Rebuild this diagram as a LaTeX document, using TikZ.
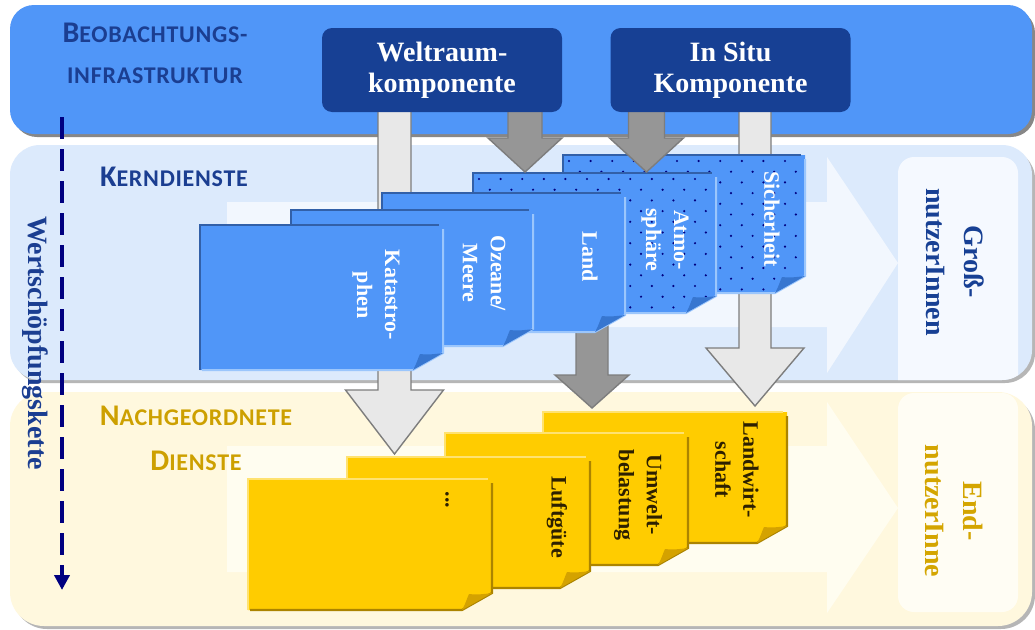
\documentclass[tikz,border=0pt]{standalone}
\usepackage{fontspec}
\setmainfont{Liberation Serif}
\newfontfamily\headfont[LetterSpace=3]{Carlito}
\usetikzlibrary{arrows.meta}

\definecolor{topblue}{RGB}{80,150,248}
\definecolor{midband}{RGB}{220,234,252}
\definecolor{midarrow}{RGB}{242,247,254}
\definecolor{midbox}{RGB}{245,249,255}
\definecolor{lowband}{RGB}{255,248,222}
\definecolor{lowarrow}{RGB}{255,253,240}
\definecolor{lowbox}{RGB}{255,253,244}
\definecolor{bandshadow}{RGB}{150,150,150}
\definecolor{boxblue}{RGB}{23,64,148}
\definecolor{headblue}{RGB}{27,62,145}
\definecolor{headgold}{RGB}{205,160,0}
\definecolor{endgold}{RGB}{212,165,0}
\definecolor{chainnavy}{RGB}{0,0,128}
\definecolor{arrlight}{RGB}{232,232,232}
\definecolor{arrdark}{RGB}{150,150,150}
\definecolor{arredge}{RGB}{125,125,125}
\definecolor{pgblue}{RGB}{80,150,248}
\definecolor{pgbluetop}{RGB}{50,96,168}
\definecolor{pgblueedge}{RGB}{155,198,252}
\definecolor{pgbluefold}{RGB}{55,118,208}
\definecolor{pgyellow}{RGB}{255,204,0}
\definecolor{pgyellowtop}{RGB}{255,226,112}
\definecolor{pgyellowedge}{RGB}{172,132,0}
\definecolor{pgyellowfold}{RGB}{212,162,0}
\definecolor{ytext}{RGB}{45,32,0}

% one sheet with a curled lower right corner: x1, y1, x2, y2
\newcommand\docsheet[4]{%
  \fill[sheetfill] (#1,#2) -- (#3,#2) -- (#3,#4-17) -- (#3-30,#4) -- (#1,#4) -- cycle;
}
\newcommand\docsheetlines[4]{%
  \draw[sheetedge] (#3,#2+4) -- (#3,#4-17) -- (#3-30,#4) -- (#1+2,#4);
  \draw[sheettop] (#1,#4) -- (#1,#2) -- (#3-4,#2);
  \fill[sheetfold] (#3-30,#4) .. controls (#3-26,#4-7) and (#3-25,#4-12) .. (#3-23,#4-16)
     .. controls (#3-15,#4-15) and (#3-7,#4-16) .. (#3,#4-17) -- cycle;
}
% staggered dots inside a sheet
\newcommand\sheetdots[4]{%
  \begin{scope}
    \clip (#1,#2) -- (#3,#2) -- (#3,#4-17) -- (#3-30,#4) -- (#1,#4) -- cycle;
    \foreach \j in {0,...,13}{
      \foreach \i in {0,...,11}{
        \fill[chainnavy] ({#1+6+21.6*\i+10.8*mod(\j,2)},{#2+6+10.7*\j}) circle (1.2pt);
      }
    }
  \end{scope}
}
% block arrow: style, centre x, top y, tip y, half shaft, half head, head length
\newcommand\blockarrow[7]{%
  \path[#1] (#2-#5,#3) -- (#2-#5,#4-#7) -- (#2-#6,#4-#7) -- (#2,#4)
     -- (#2+#6,#4-#7) -- (#2+#5,#4-#7) -- (#2+#5,#3);
}
\newcommand\initialcap[1]{{\fontsize{30}{34}\selectfont #1}}

\begin{document}
\begin{tikzpicture}[x=1pt,y=-1pt,
  bluesheet/.style={
    sheetfill/.style={fill=pgblue},
    sheettop/.style={draw=pgbluetop, line width=2.5},
    sheetedge/.style={draw=pgblueedge, line width=2},
    sheetfold/.style={fill=pgbluefold}},
  yellowsheet/.style={
    sheetfill/.style={fill=pgyellow},
    sheettop/.style={draw=pgyellowtop, line width=2.5},
    sheetedge/.style={draw=pgyellowedge, line width=2.2},
    sheetfold/.style={fill=pgyellowfold}},
  lightarrow/.style={fill=arrlight, draw=arredge, line width=1.4},
  darkarrow/.style={fill=arrdark, draw=arredge, line width=1.4},
  topbox/.style={fill=boxblue, rounded corners=10, minimum width=240, minimum height=84,
    text=white, align=center, inner sep=0pt, font=\bfseries\fontsize{28}{31}\selectfont},
  sheetlab/.style={rotate=-90, align=center, inner sep=0pt,
    font=\bfseries\fontsize{22}{28}\selectfont},
  bluelab/.style={sheetlab, text=white},
  yellowlab/.style={sheetlab, text=ytext},
  userlab/.style={rotate=-90, align=center, inner sep=0pt,
    font=\bfseries\fontsize{28}{38}\selectfont},
  headline/.style={anchor=base, inner sep=0pt, font=\headfont\bfseries\fontsize{24}{28}\selectfont},
]
\useasboundingbox (0,0) rectangle (1035,629);
\fill[white] (0,0) rectangle (1035,629);

% ---- three bands ----
\fill[bandshadow!90!black, rounded corners=24] (13,9) rectangle (1035,137);
\fill[topblue, rounded corners=24] (10,5) rectangle (1032,134);
\fill[bandshadow!70, rounded corners=30] (13,149) rectangle (1035,383);
\fill[midband, rounded corners=30] (10,145) rectangle (1032,380);
\fill[bandshadow!70, rounded corners=34] (13,396) rectangle (1035,629);
\fill[lowband, rounded corners=34] (10,392) rectangle (1032,626);

% ---- wide flow arrows in the background ----
\fill[midarrow] (227,202) -- (827,202) -- (827,157) -- (898,263) -- (827,373) -- (827,327) -- (227,327) -- cycle;
\fill[lowarrow] (227,446) -- (827,446) -- (827,402) -- (898,508) -- (827,613) -- (827,572) -- (227,572) -- cycle;

% ---- user panels ----
\begin{scope}
  \clip[rounded corners=30] (10,145) rectangle (1032,380);
  \fill[midbox, rounded corners=16] (898,157) rectangle (1018,400);
\end{scope}
\fill[lowbox, rounded corners=16] (898,393) rectangle (1018,612);
\node[userlab, text=boxblue] (gross) at (955,262) {Groß-\\nutzerInnen};
\node[userlab, text=endgold] (endn) at (954,511) {End-\\nutzerInne};

% ---- headings ----
\node[headline, text=headblue] (beob1) at (155,42) {\initialcap{B}EOBACHTUNGS-};
\node[headline, text=headblue] (beob2) at (155,83) {INFRASTRUKTUR};
\node[headline, text=headblue] (kern) at (174,186) {\initialcap{K}ERNDIENSTE};
\node[headline, text=headgold] (nach1) at (196,425) {\initialcap{N}ACHGEORDNETE};
\node[headline, text=headgold] (nach2) at (196,470) {\initialcap{D}IENSTE};

% ---- value chain ----
\node[rotate=-90, inner sep=0pt, text=headblue, font=\bfseries\fontsize{28}{32}\selectfont]
  (chain) at (35,343) {Wertschöpfungskette};
\coordinate (chainA) at (62,117);
\coordinate (chainB) at (62,590);
\draw[chainnavy, line width=4, dash pattern=on 22pt off 10pt,
  -{Triangle[width=15pt,length=15pt]}] (chainA) -- (chainB);

% ---- block arrows passing behind the sheets ----
\blockarrow{lightarrow}{394.5}{112}{454}{16.5}{49}{64}
\blockarrow{lightarrow}{755}{112}{406}{16}{49}{58}
\blockarrow{darkarrow}{592}{320}{408}{16}{37}{33}

% ---- core service sheets ----
\begin{scope}[bluesheet]
  \docsheet{563}{155}{805}{293}\sheetdots{563}{155}{805}{293}\docsheetlines{563}{155}{805}{293}
  \docsheet{473}{173}{716}{313}\sheetdots{473}{173}{716}{313}\docsheetlines{473}{173}{716}{313}
  \docsheet{382}{193}{625}{332}\docsheetlines{382}{193}{625}{332}
  \docsheet{291}{210}{533}{346}\docsheetlines{291}{210}{533}{346}
  \docsheet{200}{225}{443}{370}\docsheetlines{200}{225}{443}{370}
\end{scope}
\node[bluelab] (sich) at (772,219) {Sicherheit};
\node[bluelab] (atmo) at (665,240) {Atmo-\\sphäre};
\node[bluelab] (land) at (590,257) {Land};
\node[bluelab] (ozean) at (484,273) {Ozeane/\\Meere};
\node[bluelab] (kata) at (376,295) {Katastro-\\phen};

% ---- downstream service sheets ----
\begin{scope}[yellowsheet]
  \docsheet{543}{412}{787}{543}\docsheetlines{543}{412}{787}{543}
  \docsheet{445}{433}{688}{565}\docsheetlines{445}{433}{688}{565}
  \docsheet{347}{457}{590}{588}\docsheetlines{347}{457}{590}{588}
  \docsheet{248}{479}{492}{610}\docsheetlines{248}{479}{492}{610}
\end{scope}
\node[yellowlab] (landw) at (737,470) {Landwirt-\\schaft};
\node[yellowlab] (umw) at (638,495) {Umwelt-\\belastung};
\node[yellowlab] (luft) at (557,517) {Luftgüte};
\node[yellowlab] (more) at (447,500) {...};

% ---- block arrows onto the sheets ----
\blockarrow{darkarrow}{525}{112}{172}{17}{37}{34}
\blockarrow{darkarrow}{646.5}{112}{172}{18}{37}{34}

% ---- observation components ----
\node[topbox] (wr) at (442,70) {Weltraum-\\komponente};
\node[topbox] (insitu) at (730.5,70) {In Situ\\Komponente};
\end{tikzpicture}
\end{document}
